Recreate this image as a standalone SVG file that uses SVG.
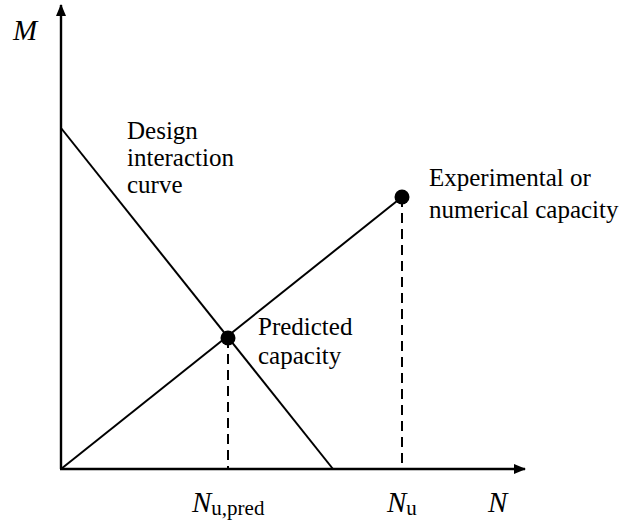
<svg xmlns="http://www.w3.org/2000/svg" width="622" height="531" viewBox="0 0 622 531">
<defs>
<style>
.ax{stroke:#000;stroke-width:2.4;fill:none}
.ln{stroke:#000;stroke-width:2;fill:none}
.ds{stroke:#000;stroke-width:2;fill:none;stroke-dasharray:10,6}
.t{font-family:"Liberation Serif","Times New Roman",serif;font-size:25px;fill:#000}
.i{font-family:"Liberation Serif","Times New Roman",serif;font-size:29px;font-style:italic;fill:#000}
.s{font-family:"Liberation Serif","Times New Roman",serif;font-size:21px;fill:#000}
</style>
<marker id="ar" markerWidth="12" markerHeight="10" refX="11" refY="5" orient="auto" markerUnits="userSpaceOnUse">
<path d="M0,0 L12,5 L0,10 z" fill="#000"/>
</marker>
</defs>
<rect width="622" height="531" fill="#fff"/>
<g id="connectors">
<line class="ax" x1="61" y1="469" x2="61" y2="5" marker-end="url(#ar)"/>
<line class="ax" x1="60" y1="469" x2="525" y2="469" marker-end="url(#ar)"/>
<line class="ln" x1="61" y1="128" x2="333" y2="469"/>
<line class="ln" x1="61" y1="469" x2="402" y2="197"/>
<line class="ds" x1="228" y1="338" x2="228" y2="469"/>
<line class="ds" x1="402" y1="197" x2="402" y2="469"/>
</g>
<g id="predicted">
<circle cx="228" cy="338" r="7.5" fill="#000"/>
<text class="t" x="258" y="335">Predicted</text>
<text class="t" x="258" y="364">capacity</text>
</g>
<g id="experimental">
<circle cx="402" cy="197" r="7.5" fill="#000"/>
<text class="t" x="429" y="186">Experimental or</text>
<text class="t" x="429" y="218">numerical capacity</text>
</g>
<g id="design">
<text class="t" x="127" y="139">Design</text>
<text class="t" x="127" y="166">interaction</text>
<text class="t" x="127" y="193">curve</text>
</g>
<g id="labels">
<text class="i" x="13" y="40">M</text>
<text class="i" x="488" y="512">N</text>
<text x="192" y="512"><tspan class="i">N</tspan><tspan class="s" dy="3">u,pred</tspan></text>
<text x="387" y="512"><tspan class="i">N</tspan><tspan class="s" dy="3">u</tspan></text>
</g>
</svg>
